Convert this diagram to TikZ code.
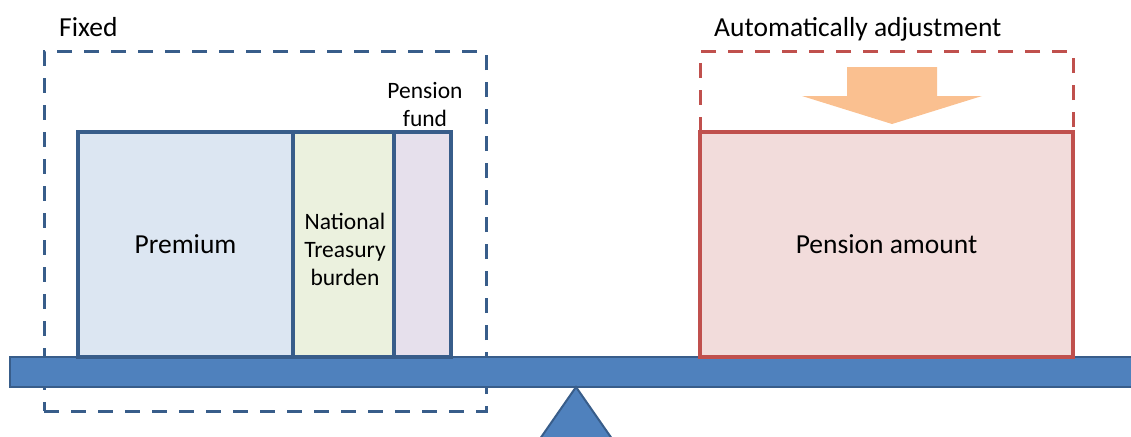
\documentclass[tikz,border=0pt]{standalone}
\usepackage{fontspec}
\setmainfont{Carlito}
\definecolor{bluebd}{HTML}{385D8A}
\definecolor{beamfill}{HTML}{4F81BD}
\definecolor{premfill}{HTML}{DCE6F2}
\definecolor{treasfill}{HTML}{EBF1DE}
\definecolor{fundfill}{HTML}{E6E0EC}
\definecolor{redbd}{HTML}{C0504D}
\definecolor{penfill}{HTML}{F2DCDB}
\definecolor{arrfill}{HTML}{FAC090}
\tikzset{
  big/.style={font=\fontsize{27.5}{33}\selectfont},
  small/.style={font=\fontsize{23.5}{28}\selectfont, align=center},
  partbox/.style={draw=bluebd, line width=3.2pt, inner sep=0pt, outer sep=0pt, minimum height=225pt},
  dashbox/.style={line width=3pt, dash pattern=on 15pt off 12pt, inner sep=0pt, outer sep=0pt},
}
\begin{document}
\begin{tikzpicture}[x=1pt,y=-1pt]
\useasboundingbox (0,0) rectangle (1131,436);
\begin{scope}
\clip (0,0) rectangle (1131,436);
% dashed blue frame (behind beam)
\node[dashbox, draw=bluebd, minimum width=442pt, minimum height=359pt] (fixedbox) at (265,231.5) {};
% beam
\node[draw=bluebd, fill=beamfill, line width=2pt, inner sep=0pt, minimum width=1130pt, minimum height=30pt] (beam) at (575,371.5) {};
% fulcrum
\draw[draw=bluebd, fill=beamfill, line width=2pt, line join=miter] (576,387) -- (535,446) -- (617,446) -- cycle;
\end{scope}
% left parts
\node[partbox, fill=premfill, minimum width=215pt, big] (prem) at (185.5,244.5) {Premium};
\node[partbox, fill=treasfill, minimum width=101pt] (treas) at (343.5,244.5) {};
\node[small, inner sep=0pt] (treaslbl) at (345,249.5) {National\\Treasury\\burden};
\node[partbox, fill=fundfill, minimum width=57pt] (fund) at (422.5,244.5) {};
\node[small, anchor=south, inner sep=0pt] (fundlbl) at (425,127) {Pension\\fund};
% right side
\node[dashbox, draw=redbd, minimum width=373pt, minimum height=80pt] (adjbox) at (886.5,92) {};
\node[draw=redbd, fill=penfill, line width=3.2pt, inner sep=0pt, outer sep=0pt, minimum width=373pt, minimum height=225pt, big] (pension) at (886.5,244.5) {Pension amount};
\fill[arrfill] (847,67) -- (937,67) -- (937,96) -- (982,96) -- (892,124) -- (802,96) -- (847,96) -- cycle;
% titles
\node[big, anchor=base west, inner sep=0pt] (fixed) at (59,37) {Fixed};
\node[big, anchor=base west, inner sep=0pt] (auto) at (714,37) {Automatically adjustment};
\end{tikzpicture}
\end{document}
